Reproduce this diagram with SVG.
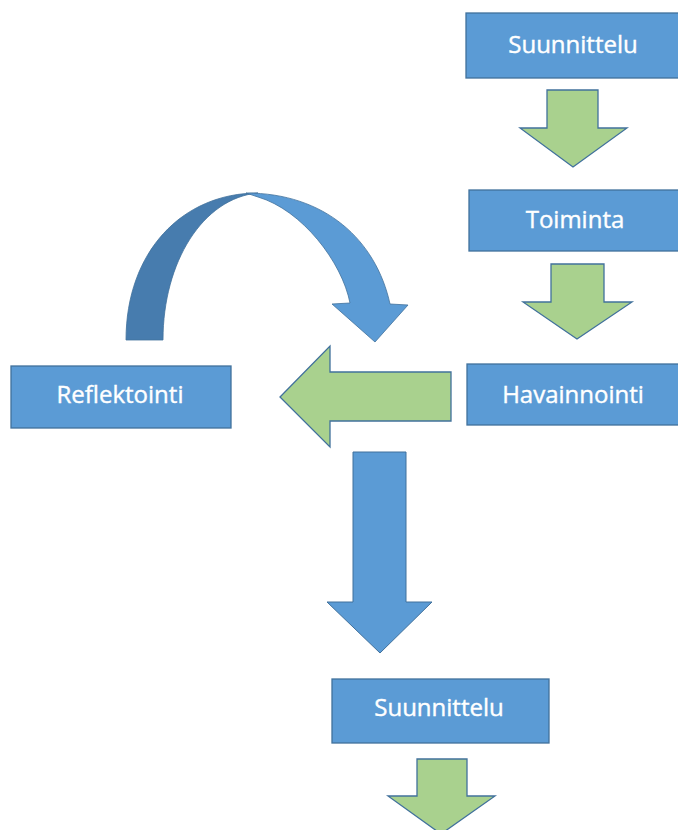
<svg xmlns="http://www.w3.org/2000/svg" width="678" height="830" viewBox="0 0 678 830">
<style>
.box{fill:#5B9BD5;stroke:#41719C;stroke-width:1.3}
.lbl{fill:#ffffff;font-family:"Open Sans","Liberation Sans",sans-serif;font-size:24px;text-anchor:middle;stroke:#ffffff;stroke-width:0.4}
.garrow{fill:#A9D18E;stroke:#41719C;stroke-width:1.3;stroke-linejoin:miter}
.barrow{fill:#5B9BD5;stroke:#41719C;stroke-width:1}
</style>
<rect width="678" height="830" fill="#ffffff"/>
<g id="connectors">
  <polygon class="garrow" points="547,90 598,90 598,128 627,128 573,167 520,128 547,128"/>
  <polygon class="garrow" points="551,264 604,264 604,302 632,302 577,339 523,302 551,302"/>
  <polygon class="garrow" points="451,372 451,421 330,421 330,447 280,397 330,346 330,372"/>
  <polygon class="barrow" points="353,452 406,452 406,602 432,602 380,653 327,602 353,602"/>
  <polygon class="garrow" points="417,759 467,759 467,796 495,796 441,834 388,796 417,796"/>
  <g id="curved-arrow">
    <path d="M126,340 C126,252 182,193 258,193 C203,198 163,262 163,340 Z" fill="#477CAE" stroke="#41719C" stroke-width="0.8"/>
    <path d="M246,193 C325,193 376,240 390,304 L408,305 L375,342 L332,304 L350,303 C342,262 302,210 258,197 Z" fill="#5B9BD5" stroke="#41719C" stroke-width="0.8"/>
  </g>
</g>
<g id="n-suunnittelu-1">
  <rect class="box" x="466" y="13" width="216" height="65"/>
  <text class="lbl" x="573" y="53">Suunnittelu</text>
</g>
<g id="n-toiminta">
  <rect class="box" x="469" y="190" width="213" height="61"/>
  <text class="lbl" x="575" y="228">Toiminta</text>
</g>
<g id="n-havainnointi">
  <rect class="box" x="467" y="364" width="215" height="61"/>
  <text class="lbl" x="573" y="403">Havainnointi</text>
</g>
<g id="n-reflektointi">
  <rect class="box" x="11" y="366" width="220" height="62"/>
  <text class="lbl" x="120" y="403">Reflektointi</text>
</g>
<g id="n-suunnittelu-2">
  <rect class="box" x="332" y="679" width="217" height="64"/>
  <text class="lbl" x="439" y="716">Suunnittelu</text>
</g>
</svg>
